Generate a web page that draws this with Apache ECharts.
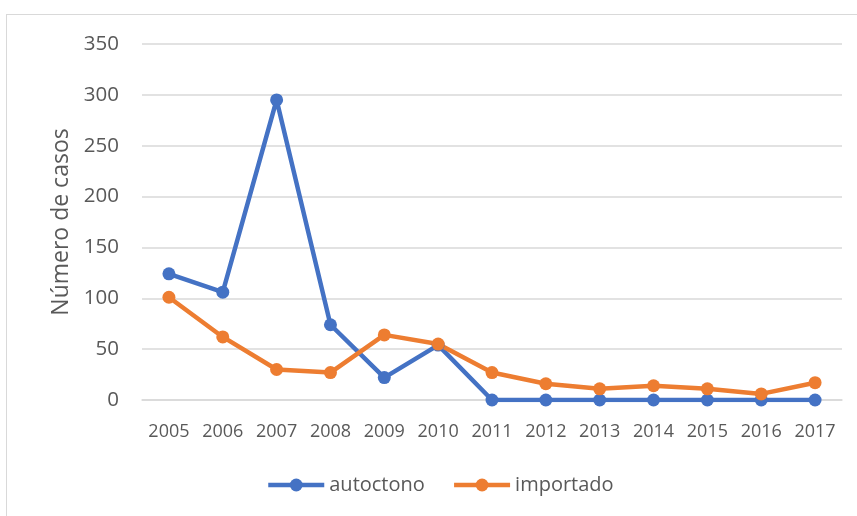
<!DOCTYPE html>
<html><head><meta charset="utf-8">
<script src="https://cdn.jsdelivr.net/npm/echarts@6/dist/echarts.min.js"></script>
<style>
html,body{margin:0;padding:0;background:#fff;}
#c{width:857px;height:516px;position:relative;}
#frame{position:absolute;left:6px;top:14px;width:860px;height:520px;border-left:1px solid #d9d9d9;border-top:1px solid #d9d9d9;pointer-events:none;}
</style></head>
<body>
<div id="frame"></div>
<div id="c"></div>
<script>
const years = ['2005','2006','2007','2008','2009','2010','2011','2012','2013','2014','2015','2016','2017'];
const autoctono = [124, 106, 295, 74, 22, 54, 0, 0, 0, 0, 0, 0, 0];
const importado = [101, 62, 30, 27, 64, 55, 27, 16, 11, 14, 11, 6, 17];
const yTicks = [0, 50, 100, 150, 200, 250, 300, 350];

const chart = echarts.init(document.getElementById('c'));
const font = '"Open Sans", sans-serif';
chart.setOption({
  animation: false,
  grid: {left: 142, right: 15, top: 44, bottom: 116},
  legend: {
    top: 470, left: 261, itemWidth: 56, itemHeight: 16, itemGap: 27,
    lineStyle: {width: 4.5},
    textStyle: {fontFamily: font, fontSize: 20, color: '#595959'},
    data: ['autoctono', 'importado']
  },
  xAxis: {
    type: 'category', data: years, boundaryGap: true,
    axisLine: {lineStyle: {color: '#d9d9d9', width: 1.5}},
    axisTick: {show: false},
    axisLabel: {fontFamily: font, fontSize: 18, color: '#595959', margin: 23}
  },
  yAxis: {
    type: 'value', min: yTicks[0], max: yTicks[yTicks.length-1], interval: 50,
    name: 'Número de casos', nameLocation: 'middle', nameGap: 68, nameRotate: 90,
    nameTextStyle: {fontFamily: font, fontSize: 23, color: '#595959'},
    axisLine: {show: false}, axisTick: {show: false},
    axisLabel: {fontFamily: font, fontSize: 20.5, color: '#595959', margin: 23},
    splitLine: {lineStyle: {color: '#d9d9d9', width: 1.5}}
  },
  series: [
    {name: 'autoctono', type: 'line', data: autoctono, symbol: 'circle', symbolSize: 13,
     lineStyle: {width: 4.5, color: '#4472C4'}, itemStyle: {color: '#4472C4'}},
    {name: 'importado', type: 'line', data: importado, symbol: 'circle', symbolSize: 13,
     lineStyle: {width: 4.5, color: '#ED7D31'}, itemStyle: {color: '#ED7D31'}}
  ]
});
</script>
</body></html>
